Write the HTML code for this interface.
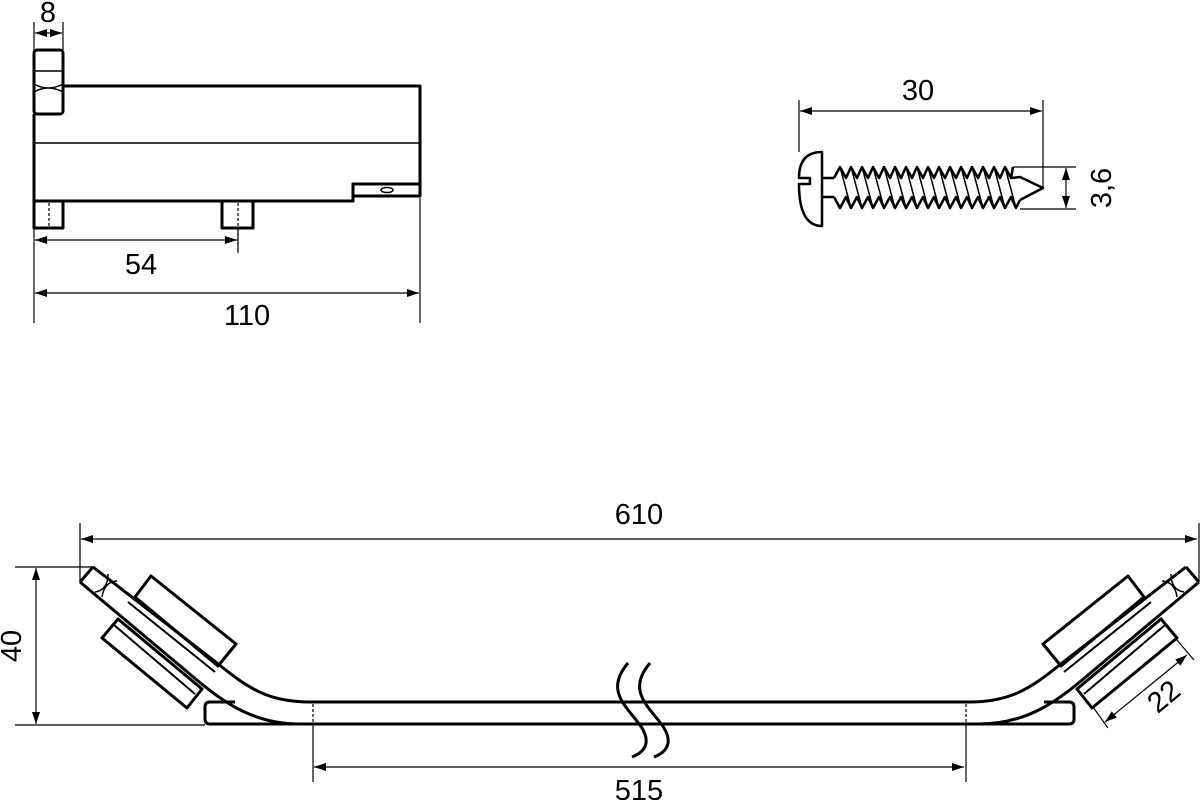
<!DOCTYPE html>
<html><head><meta charset="utf-8"><style>
html,body{margin:0;padding:0;background:#fff;}
svg{display:block}
text{font-family:"Liberation Sans",sans-serif;font-size:29px;fill:#000;}
</style></head><body>
<svg width="1200" height="800" viewBox="0 0 1200 800" xmlns="http://www.w3.org/2000/svg">
<defs>
<marker id="a" viewBox="0 0 12 8" refX="12" refY="4" markerWidth="12" markerHeight="8" orient="auto-start-reverse" markerUnits="userSpaceOnUse"><path d="M0,0 L12,4 L0,8 Z" fill="#000"/></marker>
</defs>
<g fill="none" stroke="#000" stroke-linejoin="round">
<g stroke-width="3">
<rect x="34" y="50" width="29" height="64" rx="3"/>
<path d="M63,86 L420,86 L420,196 L353,196 L353,184 L420,184 M353,184 L353,201 L34,201 L34,114"/>
<path d="M34,201 L34,228 L63,228 L63,201"/>
<path d="M222,201 L222,228 L253,228 L253,201"/>
</g>
<path d="M34,143 L420,143" stroke-width="1.5"/>
<path d="M34,71 L63,71" stroke-width="1.5"/>
<path d="M34,84 Q48,92 63,84 M34,92 Q48,84 63,92" stroke-width="1.5"/>
<ellipse cx="387" cy="190" rx="6" ry="2.5" stroke-width="1.5"/>
<path d="M49,203 L49,228 M238,203 L238,253" stroke-width="1.2" stroke-dasharray="3,2"/>
<g stroke-width="1.2">
<path d="M34,22 L34,323 M63,22 L63,50 M420,198 L420,323 M238,228 L238,253"/>
<path d="M35,33 L62,33" marker-start="url(#a)" marker-end="url(#a)"/>
<path d="M35,240 L237,240" marker-start="url(#a)" marker-end="url(#a)"/>
<path d="M35,293 L419,293" marker-start="url(#a)" marker-end="url(#a)"/>
</g>

<g stroke-width="2.5">
<path d="M822,152 Q799,152 799,178 L799,178 L810,178 L810,184 L799,184 Q799,226 822,226 Z"/>
<path d="M822,178 L834,178 M822,197 L834,197"/>
<path d="M834,178 L840,167 L846,178 L851,167 L857,178 L862,167 L868,178 L873,167 L879,178 L884,167 L890,178 L895,167 L901,178 L906,167 L912,178 L917,167 L923,178 L928,167 L934,178 L939,167 L945,178 L950,167 L956,178 L961,167 L967,178 L972,167 L978,178 L983,167 L989,178 L994,167 L1000,178 L1005,167 L1011,178 L1013,167"/>
<path d="M834,197 L840,208 L846,197 L851,208 L857,197 L862,208 L868,197 L873,208 L879,197 L884,208 L890,197 L895,208 L901,197 L906,208 L912,197 L917,208 L923,197 L928,208 L934,197 L939,208 L945,197 L950,208 L956,197 L961,208 L967,197 L972,208 L978,197 L983,208 L989,197 L994,208 L1000,197 L1005,208 L1011,197 L1016,208 L1020,200"/>
<path d="M1011,178 L1020,177 L1043,188 L1020,200"/>
</g>
<path stroke-width="1.5" d="M840,167 L851,208 M851,167 L862,208 M862,167 L873,208 M873,167 L884,208 M884,167 L895,208 M895,167 L906,208 M906,167 L917,208 M917,167 L928,208 M928,167 L939,208 M939,167 L950,208 M950,167 L961,208 M961,167 L972,208 M972,167 L983,208 M983,167 L994,208 M994,167 L1005,208 M1005,167 L1016,208"/>
<g stroke-width="1.2">
<path d="M799,100 L799,152 M1043,100 L1043,188 M1013,167 L1076,167 M1020,209 L1076,209"/>
<path d="M800,111 L1042,111" marker-start="url(#a)" marker-end="url(#a)"/>
<path d="M1066,168 L1066,208" marker-start="url(#a)" marker-end="url(#a)"/>
</g>

<g id="half">
<g stroke-width="3">
<path d="M93,567 L217,663 C250,690 270,702 310,702 L640,702"/>
<path d="M80,582 L185,670 C220,700 250,724 300,724 L640,724"/>
<path d="M80,582 L93,567"/>
<path d="M640,724 L210,724 Q205,724 205,719 L205,707 Q205,702 210,702 L235,702"/>
<polygon points="135,597 151,576 236,644 218,666"/>
<polygon points="102,638 118,619 202,689 187,708"/>
</g>
<path d="M95,592 Q108,590 108,574 M102,597 Q104,582 117,581" stroke-width="1.5"/>
<path d="M128,602 L215,672 M114,625 L195,694" stroke-width="2"/>
<path d="M313,704 L313,724" stroke-width="1.2" stroke-dasharray="3,2"/>
<path d="M313,725 L313,782" stroke-width="1.2"/>
<path d="M80,523 L80,582" stroke-width="1.2"/>
</g>
<use href="#half" transform="translate(1279,0) scale(-1,1)"/>
<g stroke-width="1.2">
<path d="M81,539 L1197,539" marker-start="url(#a)" marker-end="url(#a)"/>
<path d="M314,767 L964,767" marker-start="url(#a)" marker-end="url(#a)"/>
<path d="M15,567 L95,567 M15,725 L205,725"/>
<path d="M36,568 L36,724" marker-start="url(#a)" marker-end="url(#a)"/>
<path d="M1176,639 L1194,660 M1093,707 L1108,728"/>
<path d="M1187,655 L1105,722" marker-start="url(#a)" marker-end="url(#a)"/>
</g>
<path d="M628,663 C605,690 625,705 640,725 C652,742 645,752 632,757" stroke-width="3"/>
<path d="M650,663 C627,690 647,705 662,725 C674,742 667,752 654,757" stroke-width="3"/>
</g>
<text x="48" y="22" text-anchor="middle">8</text>
<text x="141" y="274" text-anchor="middle">54</text>
<text x="247" y="325" text-anchor="middle">110</text>
<text x="918" y="100" text-anchor="middle">30</text>
<text x="0" y="0" text-anchor="middle" transform="translate(1111,188) rotate(-90)">3,6</text>
<text x="639" y="524" text-anchor="middle">610</text>
<text x="639" y="800" text-anchor="middle">515</text>
<text x="0" y="0" text-anchor="middle" transform="translate(21,646) rotate(-90)">40</text>
<text x="0" y="0" text-anchor="middle" transform="translate(1170,704) rotate(-40)">22</text>
</svg>
</body></html>
